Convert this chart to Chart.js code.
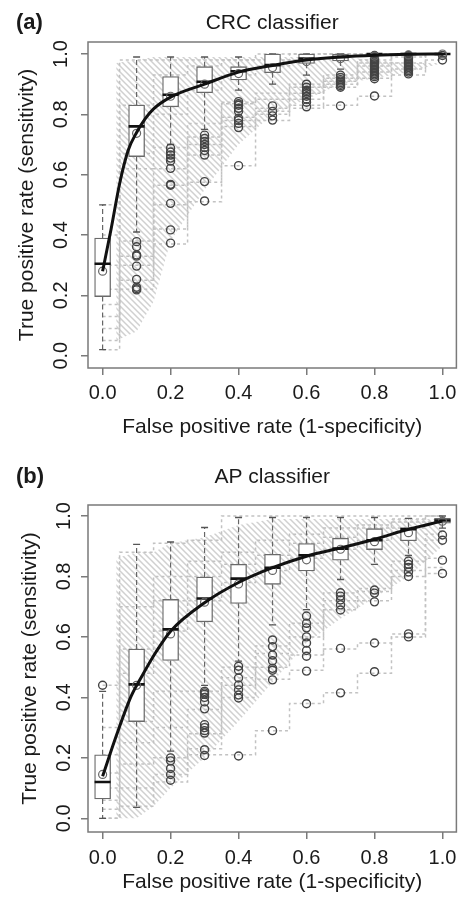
<!DOCTYPE html>
<html><head><meta charset="utf-8">
<script src="https://cdn.jsdelivr.net/npm/chart.js@4.4.1/dist/chart.umd.min.js"></script>
<style>
html,body{margin:0;padding:0;background:#fff;width:467px;height:902px;overflow:hidden}
#wrap{position:relative;width:467px;height:902px}
canvas{position:absolute;left:0}
</style></head><body>
<div id="wrap">
<canvas id="ca" width="467" height="451" style="top:0"></canvas>
<canvas id="cb" width="467" height="451" style="top:451px"></canvas>
</div>
<script>
// ---------- shared ----------
const bins = [0,0.1,0.2,0.3,0.4,0.5,0.6,0.7,0.8,0.9,1.0];
const xTickValues = [0,0.2,0.4,0.6,0.8,1.0];
const xTickLabels = ['0.0','0.2','0.4','0.6','0.8','1.0'];
const yTickValues = [0,0.2,0.4,0.6,0.8,1.0];
const yTickLabels = ['0.0','0.2','0.4','0.6','0.8','1.0'];
const xTitle = 'False positive rate (1-specificity)';
const yTitle = 'True positive rate (sensitivity)';
const hatchX = [0.04,0.1,0.15,0.2,0.3,0.4,0.5,0.6,0.7,0.8,0.9,1.0];

// ---------- panel (a): CRC classifier ----------
const crcMin = [0.02,0.41,0.70,0.75,0.88,0.90,0.93,0.95,0.99,0.99,0.99];
const crcQ1  = [0.196,0.66,0.825,0.872,0.914,0.938,0.969,0.977,1.0,1.0,1.0];
const crcMed = [0.305,0.76,0.865,0.908,0.943,0.963,0.985,0.99,1.0,1.0,1.0];
const crcQ3  = [0.39,0.831,0.925,0.958,0.958,1.0,1.0,1.0,1.0,1.0,1.0];
const crcMax = [0.50,0.99,0.99,0.99,0.99,1.0,1.0,1.0,1.0,1.0,1.0];
const crcMean = [0.28,0.737,0.86,0.90,0.935,0.955,0.975,0.985,0.993,0.997,1.0];
const crcOutliers = [
  [],
  [0.378,0.361,0.334,0.33,0.297,0.253,0.227,0.222,0.218],
  [0.688,0.675,0.665,0.655,0.645,0.621,0.568,0.565,0.505,0.417,0.373],
  [0.731,0.72,0.71,0.70,0.69,0.68,0.665,0.577,0.513],
  [0.842,0.835,0.83,0.82,0.81,0.787,0.78,0.77,0.756,0.63],
  [0.828,0.81,0.795,0.781],
  [0.90,0.89,0.88,0.875,0.869,0.86,0.85,0.84,0.825],
  [0.93,0.922,0.915,0.91,0.905,0.9,0.895,0.89,0.828],
  [0.995,0.99,0.985,0.98,0.975,0.97,0.965,0.96,0.955,0.95,0.945,0.94,0.935,0.93,0.925,0.918,0.861],
  [0.995,0.99,0.985,0.98,0.975,0.97,0.965,0.96,0.955,0.95,0.945,0.94,0.934],
  [0.995,0.98]
];
const crcCurveX = [0,0.025,0.05,0.075,0.1,0.125,0.15,0.2,0.3,0.4,0.5,0.6,0.7,0.8,0.9,1.0];
const crcCurveY = [0.28,0.42,0.57,0.68,0.74,0.785,0.818,0.857,0.9,0.94,0.962,0.98,0.99,0.996,0.999,1.0];
const crcRoc = [
  [0.02,0.22,0.37,0.51,0.63,0.78,0.82,0.83,0.86,0.93,0.98],
  [0.05,0.25,0.42,0.575,0.76,0.80,0.83,0.89,0.92,0.95,1.0],
  [0.09,0.30,0.50,0.665,0.78,0.81,0.85,0.90,0.94,0.97,1.0],
  [0.13,0.33,0.565,0.70,0.79,0.82,0.87,0.92,0.96,0.99,1.0],
  [0.17,0.38,0.62,0.725,0.835,0.85,0.89,0.91,0.97,1.0,1.0],
  [0.22,0.62,0.69,0.77,0.84,0.87,0.90,0.93,0.98,1.0,1.0],
  [0.30,0.67,0.80,0.88,0.93,0.96,0.98,1.0,1.0,1.0,1.0],
  [0.40,0.83,0.93,0.96,0.98,1.0,1.0,1.0,1.0,1.0,1.0],
  [0.50,0.98,0.98,0.98,0.98,0.98,1.0,1.0,1.0,1.0,1.0]
];
const crcHatchUpper = [0.97,0.98,0.99,0.99,0.99,0.99,0.99,0.99,0.99,0.98,0.97,0.97];
const crcHatchLower = [0.05,0.08,0.18,0.38,0.55,0.70,0.80,0.85,0.90,0.92,0.94,0.97];

// ---------- panel (b): AP classifier ----------
const apMin = [0.0,0.036,0.222,0.44,0.52,0.64,0.69,0.79,0.84,0.87,0.96];
const apQ1  = [0.064,0.32,0.522,0.65,0.711,0.774,0.818,0.854,0.889,0.918,0.976];
const apMed = [0.12,0.443,0.625,0.727,0.793,0.829,0.87,0.892,0.92,0.956,0.985];
const apQ3  = [0.21,0.56,0.724,0.798,0.84,0.873,0.909,0.926,0.958,0.962,0.992];
const apMax = [0.42,0.906,0.914,0.962,0.995,0.995,0.995,0.995,0.995,0.992,1.0];
const apMean = [0.145,0.44,0.61,0.715,0.775,0.82,0.855,0.89,0.915,0.945,0.983];
const apOutliers = [
  [0.44],
  [],
  [0.20,0.19,0.165,0.145,0.126],
  [0.42,0.415,0.41,0.40,0.385,0.362,0.31,0.30,0.29,0.282,0.227,0.208],
  [0.503,0.49,0.464,0.441,0.425,0.408,0.398,0.206],
  [0.59,0.568,0.54,0.521,0.496,0.49,0.458,0.29],
  [0.669,0.645,0.63,0.60,0.58,0.555,0.536,0.487,0.379],
  [0.746,0.735,0.722,0.706,0.689,0.562,0.415],
  [0.755,0.745,0.716,0.58,0.485],
  [0.851,0.84,0.83,0.815,0.80,0.61,0.60],
  [0.937,0.92,0.854,0.81]
];
const apCurveX = [0,0.04,0.084,0.118,0.157,0.2,0.3,0.4,0.5,0.6,0.7,0.8,0.9,1.0];
const apCurveY = [0.139,0.272,0.404,0.475,0.55,0.619,0.713,0.78,0.829,0.867,0.894,0.923,0.956,0.983];
const apRoc = [
  [0.0,0.04,0.12,0.21,0.21,0.29,0.38,0.415,0.48,0.60,0.81],
  [0.0,0.10,0.145,0.23,0.40,0.46,0.49,0.56,0.58,0.61,0.83],
  [0.03,0.18,0.20,0.28,0.44,0.50,0.54,0.69,0.72,0.80,0.86],
  [0.06,0.25,0.30,0.36,0.465,0.545,0.60,0.72,0.75,0.82,0.92],
  [0.10,0.32,0.42,0.42,0.50,0.57,0.645,0.745,0.76,0.85,0.94],
  [0.15,0.48,0.62,0.72,0.78,0.82,0.86,0.89,0.92,0.96,0.98],
  [0.21,0.56,0.72,0.80,0.84,0.87,0.91,0.93,0.96,0.98,1.0],
  [0.30,0.70,0.80,0.85,0.88,0.92,0.94,0.96,0.97,0.99,1.0],
  [0.44,0.88,0.91,0.92,1.0,1.0,1.0,1.0,1.0,1.0,1.0]
];
const apHatchUpper = [0.86,0.88,0.88,0.91,0.93,0.97,0.99,0.99,0.99,0.99,0.99,0.99];
const apHatchLower = [0.0,0.0,0.04,0.10,0.20,0.32,0.45,0.58,0.66,0.73,0.80,0.90];

// ---------- drawing ----------
const FONT = '"Liberation Sans", Arial, Helvetica, sans-serif';
const TEXT = '#1a1a1a';
const FRAME = '#7a7a7a';

function makeHatch(canvas){
  const t = document.createElement('canvas'); t.width = 6; t.height = 6;
  const g = t.getContext('2d');
  g.strokeStyle = '#d0d0d0'; g.lineWidth = 1.5;
  g.beginPath();
  g.moveTo(0,0); g.lineTo(6,6);
  g.moveTo(-1,5); g.lineTo(1,7);
  g.moveTo(5,-1); g.lineTo(7,1);
  g.stroke();
  return canvas.getContext('2d').createPattern(t,'repeat');
}

function buildChart(id, P, D){
  const canvas = document.getElementById(id);
  const ds = [];
  // hatch band
  const lowerIdx = 1;
  ds.push({type:'line', data: hatchX.map((x,i)=>({x, y:D.hatchUpper[i]})), borderWidth:0, pointRadius:0,
           fill:{target:lowerIdx}, backgroundColor: makeHatch(canvas), order:20});
  ds.push({type:'line', data: hatchX.map((x,i)=>({x, y:D.hatchLower[i]})), borderWidth:0, pointRadius:0,
           fill:false, order:21});
  // ROC step curves
  D.roc.forEach(r => ds.push({type:'line', data: bins.map((x,i)=>({x, y:r[i]})), stepped:'middle',
    borderColor:'#c2c2c2', borderWidth:1.5, borderDash:[3,3], pointRadius:0, fill:false, order:15}));
  // whiskers
  const wk = [];
  bins.forEach((x,i)=>{ wk.push({x,y:D.q3[i]},{x,y:D.max[i]},{x,y:null},{x,y:D.q1[i]},{x,y:D.min[i]},{x,y:null}); });
  ds.push({type:'line', data: wk, borderColor:'#666', borderWidth:1.2, borderDash:[5,3], pointRadius:0, fill:false, spanGaps:false, order:8});
  // caps
  const caps = [];
  bins.forEach((x,i)=>{ caps.push({x,y:D.max[i]},{x,y:D.min[i]}); });
  ds.push({type:'scatter', data: caps, pointStyle:'line', pointRadius:3.5, pointBorderColor:'#555', pointBorderWidth:1.3, order:7});
  // boxes
  ds.push({type:'bar', data: bins.map((x,i)=>({x, y:[D.q1[i], D.q3[i]]})), backgroundColor:'#ffffff',
           borderColor:'#6a6a6a', borderWidth:1.3, borderSkipped:false, barThickness:16, order:6});
  // medians
  ds.push({type:'scatter', data: bins.map((x,i)=>({x, y:D.med[i]})), pointStyle:'line', pointRadius:8,
           pointBorderColor:'#111', pointBorderWidth:2.6, order:5});
  // outliers
  const out = [];
  bins.forEach((x,i)=> D.outliers[i].forEach(v => out.push({x, y:v})));
  ds.push({type:'scatter', data: out, pointStyle:'circle', pointRadius:4, pointBackgroundColor:'rgba(0,0,0,0)',
           pointBorderColor:'#444', pointBorderWidth:1.4, order:4});
  // mean circles
  ds.push({type:'scatter', data: bins.map((x,i)=>({x, y:D.mean[i]})), pointStyle:'circle', pointRadius:4,
           pointBackgroundColor:'rgba(0,0,0,0)', pointBorderColor:'#666', pointBorderWidth:1.2, order:3});
  // mean curve
  ds.push({type:'line', data: D.curveX.map((x,i)=>({x, y:D.curveY[i]})), cubicInterpolationMode:'monotone',
           borderColor:'#111', borderWidth:3, pointRadius:0, fill:false, order:1});

  const deco = {
    id:'deco',
    afterDraw(chart){
      const c = chart.ctx, a = chart.chartArea, ys = chart.scales.y;
      c.save();
      c.strokeStyle = FRAME; c.lineWidth = 1.5;
      c.strokeRect(a.left, a.top, a.right-a.left, a.bottom-a.top);
      c.fillStyle = TEXT;
      // y tick labels (rotated like R)
      c.font = '20px ' + FONT; c.textAlign='center'; c.textBaseline='middle';
      yTickValues.forEach((v,i)=>{
        c.save(); c.translate(P.yLabelX, ys.getPixelForValue(v)); c.rotate(-Math.PI/2);
        c.fillText(yTickLabels[i],0,0); c.restore();
      });
      // axis titles
      c.font = '21px ' + FONT;
      c.save(); c.translate(P.yTitleX, (a.top+a.bottom)/2); c.rotate(-Math.PI/2);
      c.fillText(yTitle,0,0); c.restore();
      c.fillText(xTitle, (a.left+a.right)/2, P.xTitleY);
      // main title + panel letter
      c.textBaseline='alphabetic';
      c.fillText(P.title, (a.left+a.right)/2, P.titleBase);
      c.font = 'bold 22px ' + FONT; c.textAlign='left';
      c.fillText(P.letter, 16, P.titleBase);
      c.restore();
    }
  };

  return new Chart(canvas, {
    type:'line',
    data:{datasets: ds},
    options:{
      responsive:false, maintainAspectRatio:false, animation:false, devicePixelRatio:1,
      layout:{padding:{top:P.top, right:7, left:0, bottom:0}},
      plugins:{legend:{display:false}, tooltip:{enabled:false}, title:{display:false}},
      scales:{
        x:{type:'linear', min:-0.043, max:1.041, offset:false,
           afterBuildTicks: s => { s.ticks = xTickValues.map(v=>({value:v})); },
           afterFit: s => { s.height = P.height - P.bottom; },
           ticks:{callback:(v,i)=>xTickLabels[i], color:TEXT, font:{size:20, family:FONT}, padding:P.tickPad, maxRotation:0, autoSkip:false},
           grid:{display:true, offset:false, drawOnChartArea:false, drawTicks:true, tickLength:7, color:FRAME, lineWidth:1.5},
           border:{display:false}},
        y:{type:'linear', min:P.yMin, max:P.yMax, offset:false,
           afterBuildTicks: s => { s.ticks = yTickValues.map(v=>({value:v})); },
           afterFit: s => { s.width = 88; },
           ticks:{display:false},
           grid:{display:true, offset:false, drawOnChartArea:false, drawTicks:true, tickLength:7, color:FRAME, lineWidth:1.5},
           border:{display:false}}
      }
    },
    plugins:[deco]
  });
}

buildChart('ca',
  {top:42, bottom:368, height:451, yMin:-0.0408, yMax:1.0398, titleBase:28.5, xTitleY:427.5, yLabelX:61, yTitleX:27, tickPad:6,
   title:'CRC classifier', letter:'(a)'},
  {min:crcMin,q1:crcQ1,med:crcMed,q3:crcQ3,max:crcMax,mean:crcMean,outliers:crcOutliers,curveX:crcCurveX,curveY:crcCurveY,
   roc:crcRoc,hatchUpper:crcHatchUpper,hatchLower:crcHatchLower});
buildChart('cb',
  {top:54, bottom:381, height:451, yMin:-0.0453, yMax:1.0364, titleBase:31.5, xTitleY:431.5, yLabelX:64, yTitleX:30, tickPad:7,
   title:'AP classifier', letter:'(b)'},
  {min:apMin,q1:apQ1,med:apMed,q3:apQ3,max:apMax,mean:apMean,outliers:apOutliers,curveX:apCurveX,curveY:apCurveY,
   roc:apRoc,hatchUpper:apHatchUpper,hatchLower:apHatchLower});
</script>
</body></html>
